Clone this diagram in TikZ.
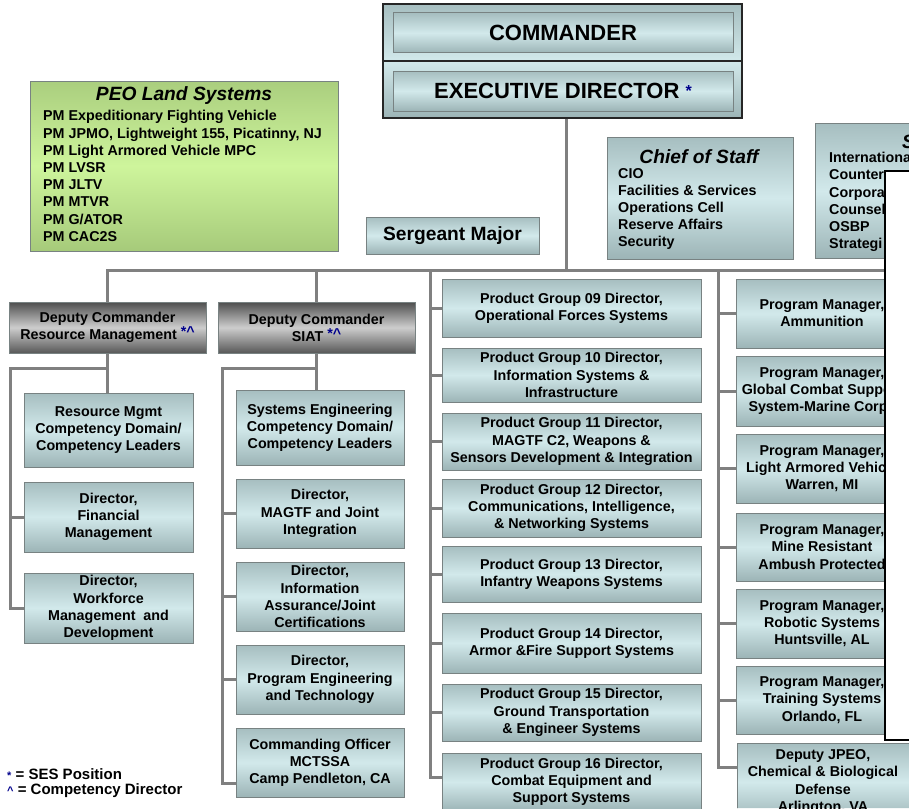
\documentclass[tikz,border=0pt]{standalone}
\usepackage{fontspec}
\setmainfont{Liberation Sans}
\usetikzlibrary{positioning}
\definecolor{boxtop}{RGB}{166,190,192}
\definecolor{boxmid}{RGB}{210,233,235}
\definecolor{boxbot}{RGB}{156,180,182}
\definecolor{boxline}{RGB}{120,130,130}
\definecolor{dctop}{RGB}{78,78,78}
\definecolor{dcmid}{RGB}{205,205,205}
\definecolor{dcbot}{RGB}{88,88,88}
\definecolor{peotop}{RGB}{170,206,126}
\definecolor{peomid}{RGB}{206,245,156}
\definecolor{peobot}{RGB}{166,202,122}
\definecolor{linkgray}{RGB}{128,128,128}
\definecolor{sesblue}{RGB}{0,0,140}
\newcommand\boxfont{\bfseries\fontsize{14.3}{17.2}\selectfont}
\newcommand\headfont{\bfseries\fontsize{19.2}{22}\selectfont}
\newcommand\bigfont{\bfseries\fontsize{22}{26}\selectfont}
\newcommand\sesmarks{\raisebox{3pt}{\textcolor{sesblue}{*\textasciicircum}}}
\tikzset{box/.style={ % teal office box
draw=boxline,
line width=1pt,
top color=boxtop, bottom color=boxbot, middle color=boxmid,
align=center,
inner sep=2pt,
font=\boxfont},
boxsize/.style 2 args={minimum width=#1pt, minimum height=#2pt},
dcbox/.style={box, top color=dctop, bottom color=dcbot, middle color=dcmid}, % deputy commanders
link/.style={draw=linkgray, line width=3pt},
plain/.style={inner sep=0pt, align=left, font=\boxfont}}

\begin{document}
\begin{tikzpicture}[x=1pt,y=-1pt]
\useasboundingbox (0,0) rectangle (909,808);
\clip (0,0) rectangle (909,808);

% command group
\node[box, boxsize={359}{114}, draw=black!85, line width=1.4pt] (frame) at (562.5,61) {};
\draw[black!85, line width=1.2pt] (frame.west) -- (frame.east);
\node[box, boxsize={340}{40}, font=\bigfont] (cmdr) at (563,33) {COMMANDER};
\node[box, boxsize={340}{40}, font=\bigfont] (exec) at (563,91)
  {EXECUTIVE DIRECTOR {\raisebox{2pt}{\fontsize{16}{16}\selectfont\textcolor{sesblue}{*}}}};

% PEO Land Systems
\node[box, boxsize={308}{170}, top color=peotop, bottom color=peobot, middle color=peomid] (peo) at (184,166) {};
\node[font=\headfont\itshape, inner sep=0pt] (peotitle) at (184,96) {PEO Land Systems};
\node[plain, anchor=west] (peolist) at (43,176) {PM Expeditionary Fighting Vehicle\\
PM JPMO, Lightweight 155, Picatinny, NJ\\PM Light Armored Vehicle MPC\\PM LVSR\\PM JLTV\\
PM MTVR\\PM G/ATOR\\PM CAC2S};

% staff
\node[box, boxsize={186}{122}] (cos) at (700,198) {};
\node[font=\headfont\itshape, inner sep=0pt] (costitle) at (699,157) {Chief of Staff};
\node[plain, anchor=west] (coslist) at (618,209) {CIO\\Facilities \& Services\\Operations Cell\\
Reserve Affairs\\Security};
\node[box, boxsize={173}{37}, font=\headfont] (sgtmaj) at (452.5,235.5) {Sergeant Major};

\node[dcbox, boxsize={197}{51}] (dcrm) at (107.5,327.5) {Deputy Commander\\Resource Management \sesmarks};
\node[dcbox, boxsize={197}{51}] (dcsiat) at (316.5,327.5) {Deputy Commander\\SIAT \sesmarks};

% resource management
\node[box, boxsize={169}{74}] (rm1) at (108.5,430) {Resource Mgmt\\Competency Domain/\\Competency Leaders};
\node[box, boxsize={169}{70}] (rm2) at (108.5,517) {Director,\\Financial\\Management};
\node[box, boxsize={169}{70}] (rm3) at (108.5,608) {Director,\\Workforce\\Management~~and\\Development};

% SIAT
\node[box, boxsize={168}{75}] (si1) at (320,427.5) {Systems Engineering\\Competency Domain/\\Competency Leaders};
\node[box, boxsize={168}{69}] (si2) at (320,513.5) {Director,\\MAGTF and Joint\\Integration};
\node[box, boxsize={168}{69}] (si3) at (320,596.5) {Director,\\Information\\Assurance/Joint\\Certifications};
\node[box, boxsize={168}{69}] (si4) at (320,679.5) {Director,\\Program Engineering\\and Technology};
\node[box, boxsize={168}{69}] (si5) at (320,762.5) {Commanding Officer\\MCTSSA\\Camp Pendleton, CA};

% product groups
\node[box, boxsize={259}{58}] (pg09) at (571.5,308) {Product Group 09 Director,\\Operational Forces Systems};
\node[box, boxsize={259}{54}] (pg10) at (571.5,375) {Product Group 10 Director,\\Information Systems \&\\Infrastructure};
\node[box, boxsize={259}{57}] (pg11) at (571.5,441.5) {Product Group 11 Director,\\MAGTF C2, Weapons \&\\Sensors Development \& Integration};
\node[box, boxsize={259}{58}] (pg12) at (571.5,508) {Product Group 12 Director,\\Communications, Intelligence,\\\& Networking Systems};
\node[box, boxsize={259}{56}] (pg13) at (571.5,574) {Product Group 13 Director,\\Infantry Weapons Systems};
\node[box, boxsize={259}{60}] (pg14) at (571.5,643) {Product Group 14 Director,\\Armor \&Fire Support Systems};
\node[box, boxsize={259}{57}] (pg15) at (571.5,712.5) {Product Group 15 Director,\\Ground Transportation\\\& Engineer Systems};
\node[box, boxsize={259}{58}] (pg16) at (571.5,782) {Product Group 16 Director,\\Combat Equipment and\\Support Systems};

% program managers, partly hidden
\begin{scope}
\clip (0,0) -- (909,0) -- (909,171) -- (885,171) -- (885,740) -- (909,740) -- (909,808) -- (0,808) -- cycle;
\node[box, boxsize={200}{135}, anchor=north west] (staff) at (815,123) {};
\node[font=\headfont\itshape, inner sep=0pt, anchor=west] (stafftitle) at (902,142) {S};
\node[plain, anchor=west] (stafflist) at (829,202) {Internationa\\Counter-\\Corpora\\Counsel\\OSBP\\Strategi};
\node[box, boxsize={172}{69}] (pm1) at (822,313.5) {Program Manager,\\Ammunition};
\node[box, boxsize={172}{70}] (pm2) at (822,391) {Program Manager,\\Global Combat Support\\System-Marine Corps};
\node[box, boxsize={172}{69}] (pm3) at (822,468.5) {Program Manager,\\Light Armored Vehicle\\Warren, MI};
\node[box, boxsize={172}{68}] (pm4) at (822,547) {Program Manager,\\Mine Resistant\\Ambush Protected};
\node[box, boxsize={172}{69}] (pm5) at (822,623.5) {Program Manager,\\Robotic Systems\\Huntsville, AL};
\node[box, boxsize={172}{68}] (pm6) at (822,700) {Program Manager,\\Training Systems\\Orlando, FL};
\node[box, boxsize={172}{78}] (pm7) at (823,782) {Deputy JPEO,\\Chemical \& Biological\\Defense\\Arlington, VA};
\end{scope}
\draw[black, line width=1.4pt, fill=white] (885,171) rectangle (915,740);

% connectors
\coordinate (hub) at (566,270);
\coordinate (busend) at (884,270);
\coordinate (pgtop) at (430,270);
\coordinate (pmtop) at (718,270);
\coordinate (rmjoint) at (107.5,368);
\coordinate (rmspine) at (10,368);
\coordinate (sijoint) at (316.5,368);
\coordinate (sispine) at (222,368);
\draw[link] (hub |- frame.south) -- (hub);
\draw[link] (dcrm.north) |- (busend);
\draw[link] (dcsiat.north) -- (dcsiat.north |- hub);
\draw[link] (dcrm.south) -- (dcrm.south |- rm1.north);
\draw[link] (rmjoint) -- (rmspine) |- (rm2.west) (rmspine) |- (rm3.west);
\draw[link] (dcsiat.south) -- (dcsiat.south |- si1.north);
\draw[link] (sijoint) -- (sispine) |- (si2.west) (sispine) |- (si3.west) (sispine) |- (si4.west)
  (sispine) |- ([yshift=-20.5pt]si5.west);
\draw[link] (pgtop) |- (pg09.west) (pgtop) |- (pg10.west) (pgtop) |- (pg11.west) (pgtop) |- (pg12.west)
  (pgtop) |- (pg13.west) (pgtop) |- (pg14.west) (pgtop) |- (pg15.west) (pgtop) |- ([yshift=5pt]pg16.west);
\draw[link] (pmtop) |- (pm1.west) (pmtop) |- (pm2.west) (pmtop) |- (pm3.west) (pmtop) |- (pm4.west)
  (pmtop) |- (pm5.west) (pmtop) |- (pm6.west) (pmtop) |- ([yshift=15pt]pm7.west);

\node[plain, anchor=west, font=\bfseries\fontsize{15}{15.5}\selectfont] (legend) at (7,783)
  {\textcolor{sesblue}{\fontsize{11}{11}\selectfont*} = SES Position\\\textcolor{sesblue}{\fontsize{11}{11}\selectfont\textasciicircum} = Competency Director};
\end{tikzpicture}
\end{document}
